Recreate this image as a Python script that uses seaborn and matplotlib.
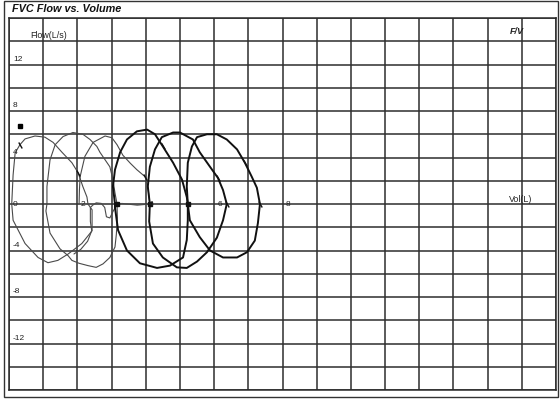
import numpy as np
import pandas as pd
import matplotlib
matplotlib.use("Agg")
import matplotlib.pyplot as plt
from matplotlib.patches import Rectangle
import seaborn as sns

# flow-volume loops (vol in L, flow in L/s)
loop1_vol = [0.08, 0.12, 0.18, 0.32, 0.47, 0.76, 1.05, 1.29, 1.55, 1.84, 2.02, 2.16, 2.28, 2.31,
             2.43, 2.43, 2.13, 1.73, 1.43, 1.14, 0.85, 0.47, 0.12, 0.08]
loop1_flow = [0, 2.5, 4.4, 5.1, 5.6, 5.85, 5.75, 5.3, 4.45, 3.55, 2.7, 1.5, 0.6, 0,
              -0.5, -2.3, -3.4, -4.3, -4.85, -5.05, -4.6, -3.4, -1.4, 0]

loop2_vol = [1.11, 1.11, 1.20, 1.35, 1.58, 1.87, 2.16, 2.37, 2.57, 2.66, 2.95, 3.04, 3.10, 3.16,
             3.17, 3.14, 3.10, 2.95, 2.75, 2.55, 2.31, 2.05, 1.84, 1.73, 1.49, 1.20, 1.08, 1.11]
loop2_flow = [0, 1.5, 3.8, 5.1, 5.8, 6.15, 6.0, 5.55, 4.95, 4.45, 3.2, 2.1, 0.95, 0,
              -1.2, -2.6, -3.7, -4.6, -5.15, -5.45, -5.3, -5.1, -4.85, -4.45, -3.85, -2.5, -0.6, 0]

loop3_vol = [2.05, 2.06, 2.08, 2.22, 2.46, 2.81, 3.01, 3.16, 3.33, 3.55, 3.74, 3.98, 4.06, 4.12,
             3.75, 3.30, 3.16, 3.05, 2.95, 2.85, 2.80, 2.70, 2.55, 2.45, 2.38, 2.38, 2.42, 2.30, 2.10, 1.90]
loop3_flow = [0, 1.2, 2.35, 4.1, 5.3, 5.85, 5.7, 5.1, 4.2, 3.5, 2.95, 2.35, 1.5, 0,
              -0.1, 0.05, -0.05, -0.6, -1.2, -1.1, -0.3, 0.05, 0.1, -0.1, -0.3, -1.5, -2.3, -3.2, -3.9, -4.3]

loop4_vol = [3.10, 3.04, 3.10, 3.25, 3.45, 3.74, 4.04, 4.27, 4.50, 4.80, 5.06, 5.20, 5.23,
             5.23, 5.20, 5.09, 4.71, 4.33, 3.83, 3.45, 3.19, 3.10, 3.10]
loop4_flow = [0, 1.5, 2.95, 4.45, 5.55, 6.25, 6.4, 6.0, 4.95, 3.55, 2.1, 0.6, 0,
              -1.4, -3.1, -4.6, -5.3, -5.5, -5.1, -4.0, -2.25, -0.3, 0]

loop5_vol = [4.12, 4.06, 4.12, 4.27, 4.47, 4.80, 5.00, 5.38, 5.58, 5.88, 6.11, 6.26, 6.37,
             6.26, 6.08, 5.79, 5.50, 5.20, 4.91, 4.50, 4.21, 4.10, 4.12]
loop5_flow = [0, 1.5, 3.2, 4.7, 5.75, 6.15, 6.15, 5.55, 4.45, 3.2, 2.25, 1.2, 0,
              -1.4, -2.9, -4.15, -4.95, -5.5, -5.45, -4.6, -3.4, -1.5, 0]

loop6_vol = [5.23, 5.20, 5.23, 5.35, 5.50, 5.79, 6.08, 6.37, 6.67, 6.90, 7.10, 7.25, 7.34,
             7.28, 7.19, 6.96, 6.67, 6.26, 5.88, 5.58, 5.29, 5.23]
loop6_flow = [0, 1.5, 3.55, 4.95, 5.75, 6.0, 6.0, 5.55, 4.7, 3.55, 2.35, 1.4, 0,
              -1.65, -3.15, -4.15, -4.6, -4.6, -4.0, -2.85, -1.4, 0]

# small tick marks printed on the curves, and the blobs at the start points
mark_vol = [0.32, 2.02, 3.98, 4.50, 6.11, 6.90, 6.37, 7.34]
mark_flow = [5.1, 2.7, 2.35, 4.95, 2.25, 3.55, 0.0, 0.0]
blob_vol = [3.15, 4.12, 5.23]
blob_flow = [0.0, 0.0, 0.0]
square_vol = [0.32]
square_flow = [6.7]

x_ticks = [0, 2, 4, 6, 8]
y_ticks = [12, 8, 4, -4, -8, -12]


def build_frame():
    loops = [(loop1_vol, loop1_flow, "thin"), (loop2_vol, loop2_flow, "thin"),
             (loop3_vol, loop3_flow, "thin"), (loop4_vol, loop4_flow, "thick"),
             (loop5_vol, loop5_flow, "thick"), (loop6_vol, loop6_flow, "thick")]
    parts = []
    for i, (v, f, kind) in enumerate(loops):
        parts.append(pd.DataFrame({"vol": v, "flow": f, "trial": i + 1, "kind": kind}))
    return pd.concat(parts, ignore_index=True)


def create_plot(df):
    sns.set_style("white")
    plt.rcParams["font.family"] = ["Liberation Sans", "DejaVu Sans"]
    fig = plt.figure(figsize=(5.6, 4.0), dpi=100)
    ax = fig.add_axes([9 / 560, 10 / 400, 547 / 560, 372 / 400])

    # grid: 1 L columns, 2 L/s rows
    ax.set_xlim(0, 16)
    ax.set_ylim(-16, 16)
    ax.set_xticks(np.arange(0, 17, 1))
    ax.set_yticks(np.arange(-16, 17, 2))
    ax.grid(True, color="#2e2e2e", linewidth=1.1)
    ax.tick_params(length=0, labelbottom=False, labelleft=False)
    for s in ax.spines.values():
        s.set_color("#2a2a2a")
        s.set_linewidth(1.1)

    for trial, d in df.groupby("trial"):
        thin = d["kind"].iloc[0] == "thin"
        sns.lineplot(data=d, x="vol", y="flow", sort=False, estimator=None, ax=ax,
                     color="#4a4a4a" if thin else "#111111",
                     linewidth=0.8 if thin else 1.4, legend=False)

    ax.plot(mark_vol, mark_flow, linestyle="none", marker=(2, 0, 30), markersize=5,
            color="#111111", markeredgewidth=1.0)
    ax.plot(blob_vol, blob_flow, linestyle="none", marker="s", markersize=3, color="#111111")
    ax.plot(square_vol, square_flow, linestyle="none", marker="s", markersize=3.5, color="#000000")

    ax.set_xlabel("")
    ax.set_ylabel("")

    for v in x_ticks:
        ax.text(v + 0.1, 0, str(v), fontsize=6, ha="left", va="center", color="#222222")
    for v in y_ticks:
        ax.text(0.12, v + 0.15, str(v), fontsize=6, ha="left", va="bottom", color="#222222")

    fig.text(30 / 560, 1 - 36 / 400, "Flow(L/s)", fontsize=6.4, ha="left", va="center", color="#222222")
    fig.text(510 / 560, 1 - 32 / 400, "F/V", fontsize=6.5, ha="left", va="center",
             fontweight="bold", fontstyle="italic", color="#222222")
    fig.text(509 / 560, 1 - 199 / 400, "Vol(L)", fontsize=6.4, ha="left", va="center", color="#222222")

    # title bar and outer frame of the printout
    fig.text(12 / 560, 1 - 9 / 400, "FVC Flow vs. Volume", fontsize=7.8, ha="left", va="center",
             fontweight="bold", fontstyle="italic", color="#111111")
    fig.patches.append(Rectangle((4 / 560, 3 / 400), 554 / 560, 396 / 400, transform=fig.transFigure,
                                 fill=False, edgecolor="#333333", linewidth=1.0))
    return fig


def main():
    df = build_frame()
    fig = create_plot(df)
    fig.savefig("out.png", dpi=100, facecolor="white")


if __name__ == "__main__":
    main()
